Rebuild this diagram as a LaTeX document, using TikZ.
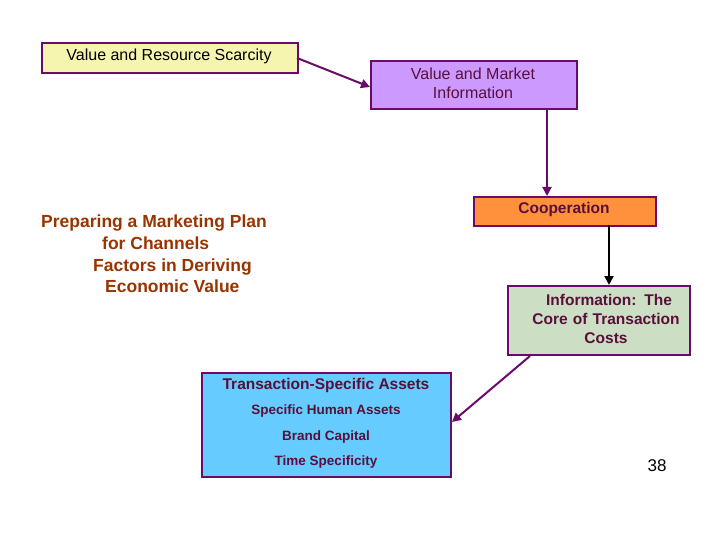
\documentclass[tikz,border=0pt]{standalone}
\usepackage{fontspec}
\setmainfont{Liberation Sans}
\usetikzlibrary{arrows.meta}
\definecolor{bord}{HTML}{6A0A6A}
\definecolor{txt}{HTML}{5A0F3A}
\definecolor{brn}{HTML}{993300}
\begin{document}
\begin{tikzpicture}[x=1pt,y=-1pt,
  box/.style={draw=bord,line width=2pt,inner sep=0pt},
  arr/.style={line width=2pt,draw=bord,-{Triangle[length=9pt,width=9pt]}},
  lbl/.style={text=txt,font=\fontsize{16}{19}\selectfont,align=center}]
\useasboundingbox (0,0) rectangle (720,540);
\node[box,fill={rgb,255:red,245;green,245;blue,176},minimum width=256pt,minimum height=30pt,anchor=north west] (a) at (41,42) {};
\node[lbl,text=black] at (169,56) {Value and Resource Scarcity};
\node[box,fill={rgb,255:red,204;green,153;blue,255},minimum width=206pt,minimum height=48pt,anchor=north west] (b) at (370,60) {};
\node[lbl,text=txt] at (473,83) {Value and Market\\Information};
\node[box,fill={rgb,255:red,255;green,145;blue,60},minimum width=182pt,minimum height=29pt,anchor=north west] (c) at (473,196) {};
\node[lbl,font=\bfseries\fontsize{15.5}{19}\selectfont] at (564,209) {Cooperation};
\node[box,fill={rgb,255:red,204;green,222;blue,196},minimum width=182pt,minimum height=69pt,anchor=north west] (d) at (507,285) {};
\node[lbl,font=\bfseries\fontsize{15.5}{19}\selectfont,text width=180pt] at (606,319) {\hspace*{6pt}Information: The\\Core of Transaction\\Costs};
\node[box,fill={rgb,255:red,102;green,204;blue,255},minimum width=249pt,minimum height=104pt,anchor=north west] (e) at (201,372) {};
\node[lbl,font=\bfseries\fontsize{15.5}{19}\selectfont] at (326,385) {Transaction-Specific Assets};
\node[lbl,font=\bfseries\fontsize{13.5}{16}\selectfont] at (326,411) {Specific Human Assets};
\node[lbl,font=\bfseries\fontsize{13.5}{16}\selectfont] at (326,437) {Brand Capital};
\node[lbl,font=\bfseries\fontsize{13.5}{16}\selectfont] at (326,462) {Time Specificity};
\node[text=brn,font=\bfseries\fontsize{17.5}{21.7}\selectfont,align=left,anchor=west,inner sep=0pt] (t) at (41,254) {Preparing a Marketing Plan\\\hspace*{61pt}for Channels\\\hspace*{52pt}Factors in Deriving\\\hspace*{64pt}Economic Value};
\node[font=\fontsize{17}{20}\selectfont] (n) at (657,466) {38};
\coordinate (a1) at (297,58); \coordinate (b1) at (370,87);
\draw[arr] (a1) -- (b1);
\draw[arr] (547,110) -- (c.north -| 547,0);
\draw[arr,draw=black] (609,225) -- (d.north -| 609,0);
\draw[arr] (530,356) -- (e.east |- 0,422);
\end{tikzpicture}
\end{document}
